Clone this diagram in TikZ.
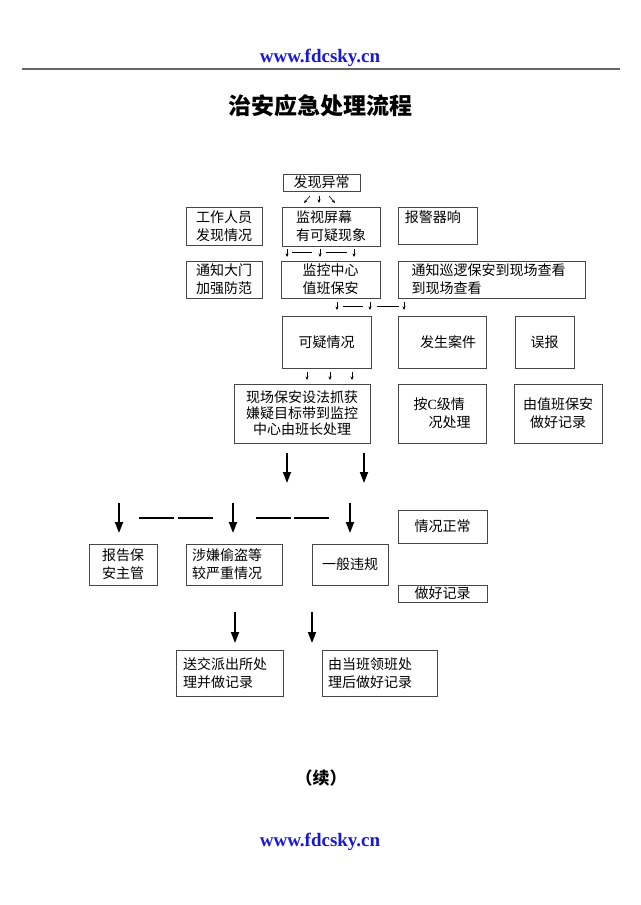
\documentclass[tikz,border=0pt]{standalone}
\usepackage{fontspec}
\setmainfont{Liberation Serif}
\newfontfamily\cjk{Noto Sans CJK SC}
\usetikzlibrary{arrows.meta}
\definecolor{urlblue}{RGB}{25,25,210}
\definecolor{boxline}{RGB}{70,70,70}
\begin{document}
\begin{tikzpicture}[x=1pt,y=-1pt,
  box/.style={draw=boxline, line width=0.8pt, font=\cjk\fontsize{14}{18}\selectfont, align=center, inner sep=0pt},
  boxl/.style={box, align=left},
  smallarr/.style={line width=0.6pt, -{Stealth[length=3.5pt,width=3pt]}},
  smalldash/.style={line width=0.6pt},
  bigarr/.style={line width=1.8pt, -{Triangle[length=11pt,width=8pt]}},
  bigdash/.style={line width=1.4pt},
  url/.style={font=\bfseries\fontsize{19}{22}\selectfont, text=urlblue}
]
\useasboundingbox (0,0) rectangle (640,905);
\fill[white] (0,0) rectangle (640,905);

% header
\node[url] (urltop) at (320,58) {www.fdcsky.cn};
\coordinate (ruleL) at (22,69);
\coordinate (ruleR) at (620,69);
\draw[line width=1.4pt, black!60] (ruleL) -- (ruleR);
\node[font=\cjk\bfseries\fontsize{23}{26}\selectfont] (title) at (320,106) {治安应急处理流程};

% boxes
\node[box, minimum width=77pt, minimum height=17pt] (fxyc) at (321.5,182.5) {发现异常};
\node[box, minimum width=76pt, minimum height=38pt] (gzry) at (224,226) {工作人员\\发现情况};
\node[boxl, minimum width=98pt, minimum height=39pt] (jsp) at (331,226.5) {监视屏幕\\有可疑现象};
\node[box, minimum width=79pt, minimum height=37pt] (bjq) at (437.5,225.5) {};
\node[font=\cjk\fontsize{14}{17}\selectfont, anchor=north west, inner sep=0pt] (bjqt) at ([xshift=7pt,yshift=-4pt]bjq.north west) {报警器响};

\node[box, minimum width=76pt, minimum height=37pt] (tzdm) at (224,279.5) {通知大门\\加强防范};
\node[box, minimum width=99pt, minimum height=37pt] (jkzx) at (330.5,279.5) {监控中心\\值班保安};
\node[boxl, minimum width=187pt, minimum height=37pt, text width=160pt] (tzxl) at (491.5,279.5) {通知巡逻保安到现场查看\\到现场查看};

\node[box, minimum width=89pt, minimum height=52pt] (kyqk) at (326.5,342) {可疑情况};
\node[box, minimum width=88pt, minimum height=52pt] (fsaj) at (442,342) {\hspace*{12pt}发生案件};
\node[box, minimum width=59pt, minimum height=52pt] (wb) at (544.5,342) {误报};

\node[box, minimum width=136pt, minimum height=59pt, font=\cjk\fontsize{14}{16}\selectfont] (xcba) at (302,413.5) {现场保安设法抓获\\嫌疑目标带到监控\\中心由班长处理};
\node[boxl, minimum width=88pt, minimum height=59pt] (acj) at (442,413.5) {按{\rmfamily C}级情\\\hspace*{15pt}况处理};
\node[box, minimum width=88pt, minimum height=59pt] (yzb) at (558,413.5) {由值班保安\\做好记录};

\node[box, minimum width=68pt, minimum height=41pt] (bgba) at (123,564.5) {报告保\\安主管};
\node[boxl, minimum width=96pt, minimum height=41pt, text width=84pt] (sxtd) at (234,564.5) {涉嫌偷盗等\\较严重情况};
\node[box, minimum width=76pt, minimum height=41pt] (ybwg) at (350,564.5) {一般违规};
\node[box, minimum width=89pt, minimum height=33pt] (qkzc) at (442.5,526.5) {情况正常};
\node[box, minimum width=89pt, minimum height=17pt] (zhjl) at (442.5,593.5) {做好记录};

\node[boxl, minimum width=107pt, minimum height=46pt, text width=93pt] (sjpcs) at (229.5,673) {送交派出所处\\理并做记录};
\node[boxl, minimum width=115pt, minimum height=46pt, text width=103pt] (ydb) at (379.5,673) {由当班领班处\\理后做好记录};

% small arrows row 1
\coordinate (a1s) at (310,196); \coordinate (a1e) at (304,203);
\coordinate (a2s) at (319,196); \coordinate (a2e) at (319,203);
\coordinate (a3s) at (329,196); \coordinate (a3e) at (335,203);
\draw[smallarr] (a1s) -- (a1e);
\draw[smallarr] (a2s) -- (a2e);
\draw[smallarr] (a3s) -- (a3e);

% small arrows row 2
\foreach \x [count=\i] in {287,320,354}{
  \coordinate (b\i s) at (\x,249); \coordinate (b\i e) at (\x,257);
  \draw[smallarr] (b\i s) -- (b\i e);}
\coordinate (bd1s) at (292,252); \coordinate (bd1e) at (312,252);
\coordinate (bd2s) at (326,252); \coordinate (bd2e) at (347,252);
\draw[smalldash] (bd1s) -- (bd1e);
\draw[smalldash] (bd2s) -- (bd2e);

% small arrows row 3
\foreach \x [count=\i] in {337,370,404}{
  \coordinate (c\i s) at (\x,302); \coordinate (c\i e) at (\x,310);
  \draw[smallarr] (c\i s) -- (c\i e);}
\coordinate (cd1s) at (343,306); \coordinate (cd1e) at (363,306);
\coordinate (cd2s) at (377,306); \coordinate (cd2e) at (399,306);
\draw[smalldash] (cd1s) -- (cd1e);
\draw[smalldash] (cd2s) -- (cd2e);

% small arrows row 4
\foreach \x [count=\i] in {307,330,352}{
  \coordinate (d\i s) at (\x,372); \coordinate (d\i e) at (\x,380);
  \draw[smallarr] (d\i s) -- (d\i e);}

% big arrows row A
\coordinate (e1s) at (287,453); \coordinate (e1e) at (287,483);
\coordinate (e2s) at (364,453); \coordinate (e2e) at (364,483);
\draw[bigarr] (e1s) -- (e1e);
\draw[bigarr] (e2s) -- (e2e);

% big arrows row B
\coordinate (f1s) at (119,503); \coordinate (f1e) at (119,533);
\coordinate (f2s) at (233,503); \coordinate (f2e) at (233,533);
\coordinate (f3s) at (350,503); \coordinate (f3e) at (350,533);
\draw[bigarr] (f1s) -- (f1e);
\draw[bigarr] (f2s) -- (f2e);
\draw[bigarr] (f3s) -- (f3e);
\coordinate (g1s) at (139,518); \coordinate (g1e) at (174,518);
\coordinate (g2s) at (178,518); \coordinate (g2e) at (213,518);
\coordinate (g3s) at (256,518); \coordinate (g3e) at (291,518);
\coordinate (g4s) at (294,518); \coordinate (g4e) at (329,518);
\draw[bigdash] (g1s) -- (g1e);
\draw[bigdash] (g2s) -- (g2e);
\draw[bigdash] (g3s) -- (g3e);
\draw[bigdash] (g4s) -- (g4e);

% big arrows row C
\coordinate (h1s) at (235,612); \coordinate (h1e) at (235,643);
\coordinate (h2s) at (312,612); \coordinate (h2e) at (312,643);
\draw[bigarr] (h1s) -- (h1e);
\draw[bigarr] (h2s) -- (h2e);

% footer
\node[font=\cjk\bfseries\fontsize{17}{20}\selectfont] (xu) at (321,778) {（续）};
\node[url] (urlbot) at (320,842) {www.fdcsky.cn};
\end{tikzpicture}
\end{document}
